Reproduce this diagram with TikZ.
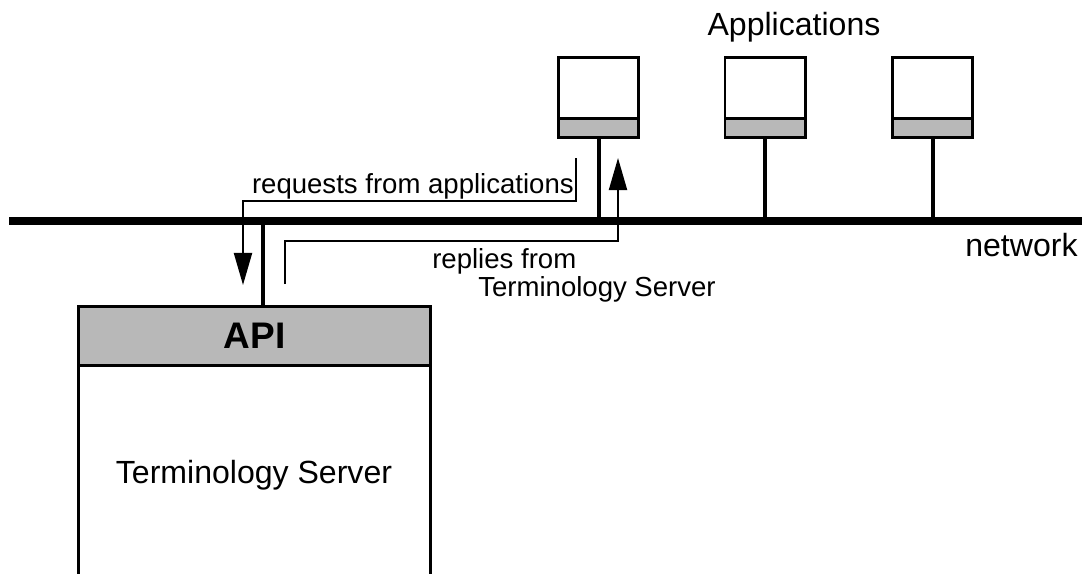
\documentclass[tikz,border=0pt]{standalone}
\usepackage{fontspec}
\setmainfont{Liberation Sans}
\usetikzlibrary{arrows.meta}
\definecolor{bandgray}{HTML}{B8B8B8}
\tikzset{
  box/.style={
    rectangle,
    draw=black,
    line width=2.1pt,
    fill=white,
    inner sep=0pt
  },
  appbox/.style={box, minimum width=2.0cm, minimum height=2.0cm},
  appband/.style={box, fill=bandgray, minimum width=2.0cm, minimum height=0.475cm},
  serverbox/.style={box, minimum width=8.8cm, minimum height=7.34cm},
  apiband/.style={box, fill=bandgray, minimum width=8.8cm, minimum height=1.475cm, font=\fontsize{26.3}{30}\selectfont\bfseries},
  bigtext/.style={font=\fontsize{22.8}{27}\selectfont, inner sep=0pt},
  smalltext/.style={font=\fontsize{19.6}{23}\selectfont, inner sep=0pt},
  net/.style={line width=5.7pt},
  stem/.style={line width=2.85pt},
  msg/.style={-{Triangle[length=0.8cm, width=0.45cm]}, line width=1.4pt}
}

\begin{document}
\begin{tikzpicture}[x=0.025cm, y=-0.025cm]
\useasboundingbox (0,0) rectangle (1082,573);

% Network.
\coordinate (net-w) at (9,221);
\coordinate (net-e) at (1082,221);
\draw[net] (net-w) -- (net-e);
\node[bigtext, anchor=base west] (netlabel) at (965,256) {network};

% Applications.
\node[bigtext, anchor=base] (applabel) at (794,35) {Applications};
\foreach \n/\x in {1/598.5, 2/765, 3/932.5} {
  \node[appbox] (app\n) at (\x,97.5) {};
  \node[appband] (band\n) at (\x,128) {};
  \draw[stem] (band\n.south) -- (band\n.south |- net-w);
}

% Terminology Server.
\node[serverbox] (server) at (254.5,453) {};
\node[apiband] (api) at (254.5,336) {API};
\node[bigtext, anchor=base] (serverlabel) at (254,483) {Terminology Server};
\coordinate (apistem) at (263,305);
\draw[stem] (apistem) -- (apistem |- net-w);

% Requests and replies.
\coordinate (req-start) at (576,158);
\coordinate (req-end) at (243,285);
\draw[msg] (req-start) -- ++(0,43) -| (req-end);
\node[smalltext, anchor=base east] (reqlabel) at (574,193) {requests from applications};

\coordinate (rep-start) at (285,284);
\coordinate (rep-end) at (618,158);
\draw[msg] (rep-start) -- ++(0,-43) -| (rep-end);
\node[smalltext, anchor=base west] (replabel) at (432,268) {replies from};
\node[smalltext, anchor=base west] (replabel2) at (478,296) {Terminology Server};

\end{tikzpicture}
\end{document}
